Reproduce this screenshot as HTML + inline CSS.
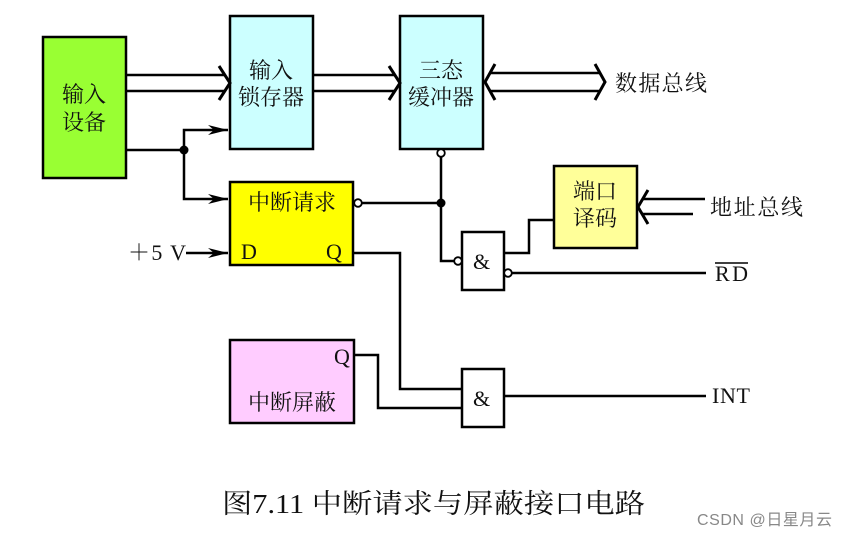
<!DOCTYPE html>
<html><head><meta charset="utf-8"><style>
html,body{margin:0;padding:0;background:#fff;width:847px;height:536px;overflow:hidden}
text{font-family:"Liberation Serif","Noto Serif CJK SC",serif;fill:#111}
</style></head><body>
<svg width="847" height="536" viewBox="0 0 847 536" xmlns="http://www.w3.org/2000/svg">
<defs><marker id="a" markerWidth="20" markerHeight="12" refX="20" refY="6" orient="auto" markerUnits="userSpaceOnUse"><path d="M0,1 L20,6 L0,11 L6,6 Z" fill="#000"/></marker></defs>
<g stroke="#000" stroke-width="2.5" fill="none">
<rect x="43" y="37" width="83" height="141" fill="#99ff33"/>
<rect x="230" y="16" width="83" height="133" fill="#ccffff"/>
<rect x="400" y="16" width="83" height="133" fill="#ccffff"/>
<rect x="230" y="182" width="123" height="83" fill="#ffff00"/>
<rect x="230" y="340" width="124" height="83" fill="#ffccff"/>
<rect x="554" y="166" width="83" height="82" fill="#ffff99"/>
<rect x="462" y="232" width="42" height="58" fill="#fff"/>
<rect x="462" y="369" width="42" height="58" fill="#fff"/>
<path d="M126,75 H224 M126,91 H224" />
<path d="M219,66 L230,83 L219,100" stroke-width="3"/>
<path d="M313,75 H394 M313,91 H394"/>
<path d="M389,66 L400,83 L389,100" stroke-width="3"/>
<path d="M490,73 H600 M490,91 H600"/>
<path d="M495,64 L485,82 L495,100 M595,64 L605,82 L595,100" stroke-width="3"/>
<path d="M643,199 H705 M643,214 H693"/>
<path d="M648,190 L638,207 L648,224" stroke-width="3"/>
<path d="M126,150 H184 V130 H228" marker-end="url(#a)"/>
<path d="M184,150 V199 H228" marker-end="url(#a)"/>
<path d="M186,253 H228" marker-end="url(#a)"/>
<path d="M362,203 H441 M441,157 V261 H454"/>
<path d="M504,253 H529 V220 H554"/>
<path d="M512,273 H706"/>
<path d="M353,253 H400 V389 H462"/>
<path d="M354,355 H378 V408 H462"/>
<path d="M504,396 H706"/>
</g>
<g fill="#000"><circle cx="184" cy="150" r="4.5"/><circle cx="441" cy="203" r="4.5"/></g>
<g fill="#fff" stroke="#000" stroke-width="1.8">
<circle cx="358" cy="203" r="3.8"/><circle cx="441" cy="153" r="3.8"/>
<circle cx="458" cy="261" r="3.8"/><circle cx="508" cy="273" r="3.8"/>
</g>
<g font-size="22">
<text x="84" y="102" text-anchor="middle">输入</text><text x="84" y="130" text-anchor="middle">设备</text>
<text x="271" y="78" text-anchor="middle">输入</text><text x="271" y="105" text-anchor="middle">锁存器</text>
<text x="441" y="78" text-anchor="middle">三态</text><text x="441" y="105" text-anchor="middle">缓冲器</text>
<text x="292" y="210" text-anchor="middle">中断请求</text>
<text x="292" y="410" text-anchor="middle">中断屏蔽</text>
<text x="595" y="199" text-anchor="middle">端口</text><text x="595" y="226" text-anchor="middle">译码</text>
<text x="615" y="91" textLength="92">数据总线</text>
<text x="710" y="215" textLength="93">地址总线</text>
<text x="241" y="259">D</text><text x="326" y="259">Q</text>
<text x="334" y="364">Q</text>
<text x="128" y="260" textLength="58">＋5 V</text>
<text x="473" y="269">&amp;</text><text x="473" y="406">&amp;</text>
<text x="715" y="281" textLength="33">RD</text><text x="712" y="403" textLength="38">INT</text>
</g>
<line x1="715" y1="263" x2="748" y2="263" stroke="#000" stroke-width="1.5"/>
<text x="222" y="513" font-size="27" textLength="423" lengthAdjust="spacingAndGlyphs">图7.11  中断请求与屏蔽接口电路</text>
<text x="697" y="525" font-size="16" textLength="135" style="font-family:'Liberation Sans','Noto Sans CJK SC',sans-serif;fill:#888">CSDN @日星月云</text>
</svg>
</body></html>
